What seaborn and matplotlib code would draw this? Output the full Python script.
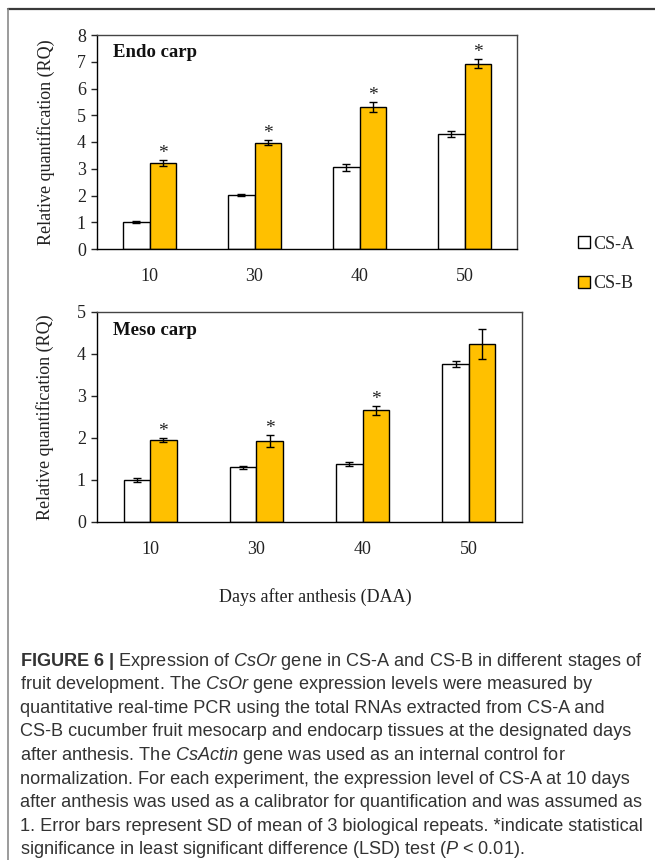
import numpy as np
import pandas as pd
import matplotlib
matplotlib.use("Agg")
import matplotlib.pyplot as plt
import seaborn as sns
from matplotlib.patches import Patch
from matplotlib.lines import Line2D

# ---------------- data ----------------
days = ["10", "30", "40", "50"]
groups = ["CS-A", "CS-B"]

endo_a = [1.00, 2.02, 3.05, 4.30]
endo_a_sd = [0.03, 0.04, 0.12, 0.10]
endo_b = [3.22, 3.98, 5.32, 6.93]
endo_b_sd = [0.12, 0.08, 0.18, 0.17]
endo_sig = [True, True, True, True]

meso_a = [1.00, 1.30, 1.38, 3.75]
meso_a_sd = [0.04, 0.03, 0.05, 0.08]
meso_b = [1.95, 1.92, 2.65, 4.22]
meso_b_sd = [0.04, 0.15, 0.10, 0.36]
meso_sig = [True, True, True, False]

endo_yticks = [0, 1, 2, 3, 4, 5, 6, 7, 8]
meso_yticks = [0, 1, 2, 3, 4, 5]

colors = {"CS-A": "#FFFFFF", "CS-B": "#FFC000"}

caption_lines = [
    r"$\mathbf{FIGURE\ 6\ |}$ Expression of $\mathit{CsOr}$ gene in CS-A and CS-B in different stages of",
    r"fruit development. The $\mathit{CsOr}$ gene expression levels were measured by",
    "quantitative real-time PCR using the total RNAs extracted from CS-A and",
    "CS-B cucumber fruit mesocarp and endocarp tissues at the designated days",
    r"after anthesis. The $\mathit{CsActin}$ gene was used as an internal control for",
    "normalization. For each experiment, the expression level of CS-A at 10 days",
    "after anthesis was used as a calibrator for quantification and was assumed as",
    "1. Error bars represent SD of mean of 3 biological repeats. *indicate statistical",
    r"significance in least significant difference (LSD) test ($\mathit{P}$ < 0.01).",
]

# ---------------- style ----------------
sns.set_style("white")
plt.rcParams["font.family"] = ["Liberation Serif", "DejaVu Serif"]
plt.rcParams["mathtext.fontset"] = "custom"
plt.rcParams["mathtext.rm"] = "Liberation Sans"
plt.rcParams["mathtext.it"] = "Liberation Sans:italic"
plt.rcParams["mathtext.bf"] = "Liberation Sans:bold"

W, H = 655, 860
fig = plt.figure(figsize=(W / 100, H / 100), dpi=100)
fig.patch.set_facecolor("white")

FS = 13


def fx(px):
    return px / W


def fy(py):
    return 1 - py / H


def panel(rect, a, asd, b, bsd, sig, yticks, title, title_y):
    ax = fig.add_axes(rect)
    df = pd.DataFrame({
        "day": days * 2,
        "line": ["CS-A"] * len(days) + ["CS-B"] * len(days),
        "value": a + b,
    })
    sns.barplot(data=df, x="day", y="value", hue="line", order=days,
                hue_order=groups, palette=colors, saturation=1,
                edgecolor="black", linewidth=1.0, width=0.5,
                errorbar=None, legend=False, ax=ax, zorder=2)
    bar_conts = list(ax.containers[:2])
    for cont, sd in zip(bar_conts, [asd, bsd]):
        xs = [p.get_x() + p.get_width() / 2 for p in cont.patches]
        hs = [p.get_height() for p in cont.patches]
        ax.errorbar(xs, hs, yerr=sd, fmt="none", ecolor="black",
                    elinewidth=1.0, capsize=3, capthick=1.0, zorder=3)
    for p, sd, flag in zip(bar_conts[1].patches, bsd, sig):
        if flag:
            ax.annotate("*", (p.get_x() + p.get_width() / 2, p.get_height() + sd),
                        xytext=(0, 1.5), textcoords="offset points",
                        ha="center", va="baseline", fontsize=14, color="#222222")
    ax.set_xlim(-0.5, len(days) - 0.5)
    ax.set_ylim(yticks[0], yticks[-1])
    ax.set_yticks(yticks)
    ax.set_yticklabels([str(t) for t in yticks])
    ax.set_xticks(np.arange(len(days) + 1) - 0.5)
    ax.set_xticklabels([""] * (len(days) + 1))
    ax.set_xticks(np.arange(len(days)), minor=True)
    ax.set_xticklabels(days, minor=True)
    ax.tick_params(axis="x", which="major", length=6, width=1.0, direction="out", color="black")
    ax.tick_params(axis="x", which="minor", length=0, pad=13.5, labelsize=FS, labelcolor="#222222")
    ax.tick_params(axis="y", length=4, width=1.0, direction="out", pad=4,
                   labelsize=FS, labelcolor="#222222", left=True)
    ax.set_xlabel("")
    ax.set_ylabel("Relative quantification (RQ)", fontsize=FS, color="#222222")
    ax.yaxis.set_label_coords(-0.1, 0.5)
    for s in ["top", "right"]:
        ax.spines[s].set_color("#444444")
        ax.spines[s].set_linewidth(1.0)
    for s in ["left", "bottom"]:
        ax.spines[s].set_color("black")
        ax.spines[s].set_linewidth(1.0)
    ax.text(0.038, title_y, title, transform=ax.transAxes, fontsize=13.5,
            fontweight="bold", ha="left", va="center", color="#111111")
    ax.grid(False)
    return ax


ax1 = panel([fx(97), fy(249), fx(517) - fx(97), fy(35) - fy(249)],
            endo_a, endo_a_sd, endo_b, endo_b_sd, endo_sig, endo_yticks, "Endo carp", 0.92)
ax2 = panel([fx(97), fy(522), fx(522) - fx(97), fy(311.5) - fy(522)],
            meso_a, meso_a_sd, meso_b, meso_b_sd, meso_sig, meso_yticks, "Meso carp", 0.912)

fig.text(fx(315), fy(597), "Days after anthesis (DAA)", ha="center", va="center",
         fontsize=FS, color="#222222")

handles = [Patch(facecolor=colors[g], edgecolor="black", linewidth=1.0, label=g) for g in groups]
fig.legend(handles=handles, loc="center left", bbox_to_anchor=(fx(578), fy(264)),
           frameon=False, handlelength=0.65, handleheight=0.65, handletextpad=0.2,
           labelspacing=1.25, fontsize=FS, borderpad=0, borderaxespad=0)

# frame lines
fig.add_artist(Line2D([fx(7.5), 1], [fy(8.5), fy(8.5)], transform=fig.transFigure,
                      color="#3a3a3a", lw=1.6))
fig.add_artist(Line2D([fx(7.5), fx(7.5)], [0, fy(8.5)], transform=fig.transFigure,
                      color="#8a8a8a", lw=1.2))

# caption
y0, dy = 661, 23.6
for i, line in enumerate(caption_lines):
    fig.text(fx(20), fy(y0 + i * dy), line, ha="left", va="center",
             fontsize=13.1, family=["Liberation Sans", "DejaVu Sans"], color="#333333")

fig.savefig("out.png", dpi=100, facecolor="white")
